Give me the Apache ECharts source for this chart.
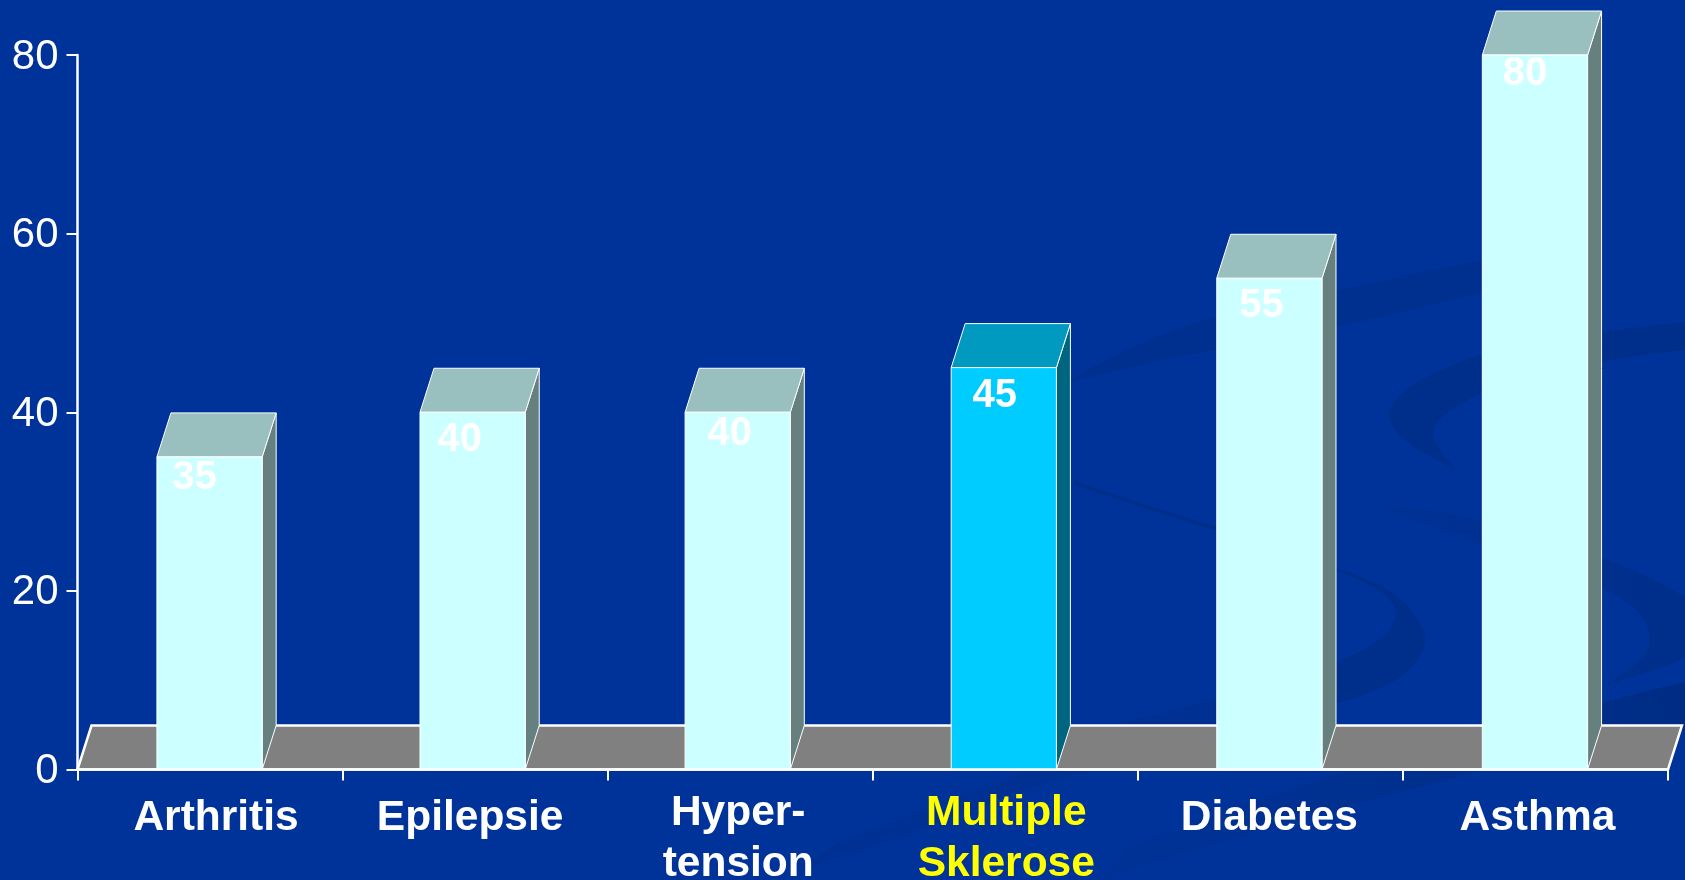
<!DOCTYPE html>
<html>
<head>
<meta charset="utf-8">
<style>
  html, body { margin: 0; padding: 0; background: #003399; }
  #chart { width: 1685px; height: 880px; }
</style>
<script src="https://cdn.jsdelivr.net/npm/echarts@6/dist/echarts.min.js"></script>
</head>
<body>
<div id="chart"></div>
<script>
// Chart data
const categories = ['Arthritis', 'Epilepsie', 'Hyper-\ntension', 'Multiple\nSklerose', 'Diabetes', 'Asthma'];
const values = [35, 40, 40, 45, 55, 80];
const yTicks = { min: 0, max: 80, interval: 20 };
const highlighted = 'Multiple\nSklerose';

// Hand placement of bars, value captions and category captions
const barShiftX = [-0.5, -2.5, -2.5, -1.5, -1, -0.5];
const captionShiftX = [-15, -13, -8, -9, -8, -10];
const captionShiftY = [21, 28, 22, 28, 28, 19];
const categoryShiftX = [6, -5, -2, 1, -1, 2];

const FONT = '"Liberation Sans", Arial, sans-serif';
const DEPTH_X = 14;
const DEPTH_Y = 44;
const BAR_RATIO = 0.397;

const palette = {
  plain: { front: '#ccffff', side: '#668080', top: '#99bfbf' },
  accent: { front: '#00ccff', side: '#006680', top: '#0099bf' }
};

// Horizontal fill ramp for the swooshes that fade towards their left end
const fade = (left, mid, right) => new echarts.graphic.LinearGradient(0, 0, 1, 0, [
  { offset: 0, color: left },
  { offset: 0.5, color: mid },
  { offset: 1, color: right }
]);

// Watermark swooshes in the slide background
const swooshes = [
  { fill: '#00308f', d: 'M1030 405 C1090 365 1150 335 1215 317 C1260 305 1300 297 1337 290 C1390 280 1440 268 1481 260 C1510 254 1540 250 1570 246 L1560 262 C1530 272 1505 285 1481 293 C1440 303 1390 315 1337 327 C1290 335 1250 343 1215 350 C1160 360 1110 372 1072 382 C1055 388 1040 398 1030 405 Z' },
  { fill: '#002e8b', d: 'M1685 322 C1610 330 1530 340 1481 355 C1440 368 1395 388 1389 413 C1388 435 1425 455 1457 470 C1440 452 1429 438 1435 425 C1445 412 1465 401 1481 393 C1530 372 1610 358 1685 350 Z' },
  { fill: '#002e8b', d: 'M1075 481 C1120 497 1170 513 1215 526 C1260 538 1300 552 1337 568 C1365 578 1390 588 1404 602 C1418 618 1426 630 1425 642 C1422 660 1405 678 1380 688 C1365 695 1350 700 1337 703 C1300 722 1260 742 1215 752 L1215 700 C1260 692 1305 678 1337 662 C1360 652 1380 642 1388 632 C1396 622 1398 612 1392 603 C1385 590 1360 580 1337 571 C1300 555 1260 542 1215 530 C1170 517 1120 500 1075 485 Z' },
  { fill: fade('#003295', '#00308f', '#002e8b'), d: 'M1375 505 C1420 505 1520 525 1601 557 C1640 572 1665 585 1685 597 L1685 657 C1660 670 1630 678 1604 685 C1630 670 1650 655 1650 640 C1650 620 1630 600 1601 587 C1560 565 1460 540 1375 505 Z' },
  { fill: fade('#003296', '#00308f', '#002c84'), d: 'M1685 682 C1650 690 1625 697 1601 703 C1520 725 1430 750 1345 772 C1270 795 1190 825 1126 847 L1103 878 C1220 840 1350 805 1478 772 C1560 755 1630 745 1685 730 Z' },
  { fill: '#003192', d: 'M1215 700 C1180 708 1145 716 1112 725 C1070 745 1040 762 1010 778 C940 805 885 825 838 842 L800 870 C880 845 960 815 1025 790 C1080 770 1150 760 1215 752 Z' }
];

const chart = echarts.init(document.getElementById('chart'), null, { renderer: 'canvas' });

chart.setOption({
  backgroundColor: '#003399',
  animation: false,
  grid: { left: 77.5, right: 17, top: 55, bottom: 110.5, containLabel: false, outerBoundsMode: 'none' },
  xAxis: {
    type: 'category',
    z: 5,
    boundaryGap: true,
    data: categories.map((name, i) => ({
      value: name,
      textStyle: {
        color: name === highlighted ? '#ffff00' : '#ffffff',
        padding: [
          name.includes('\n') ? 0 : 5,
          categoryShiftX[i] < 0 ? -2 * categoryShiftX[i] : 0,
          0,
          categoryShiftX[i] > 0 ? 2 * categoryShiftX[i] : 0
        ]
      }
    })),
    axisLine: { lineStyle: { color: '#ffffff', width: 2.5 } },
    axisTick: { show: true, length: 11, alignWithLabel: false, lineStyle: { color: '#ffffff', width: 2 } },
    axisLabel: {
      interval: 0,
      margin: 18,
      hideOverlap: false,
      fontFamily: FONT,
      fontSize: 42.5,
      fontWeight: 'bold',
      lineHeight: 51,
      verticalAlign: 'top',
      color: '#ffffff'
    }
  },
  yAxis: {
    type: 'value',
    z: 5,
    min: yTicks.min,
    max: yTicks.max,
    interval: yTicks.interval,
    splitLine: { show: false },
    axisLine: { show: true, lineStyle: { color: '#ffffff', width: 2.5 } },
    axisTick: { show: true, length: 11, lineStyle: { color: '#ffffff', width: 2 } },
    axisLabel: {
      margin: 19,
      color: '#ffffff',
      formatter: '{num|{value}}',
      rich: { num: { padding: [4, 0, 0, 0], fontFamily: FONT, fontSize: 42, color: '#ffffff' } }
    }
  },
  series: [
    {
      // Background watermark
      type: 'custom',
      coordinateSystem: 'none',
      silent: true,
      z: 0,
      data: [0],
      renderItem: () => ({
        type: 'group',
        children: swooshes.map(s => ({
          type: 'path',
          shape: { pathData: s.d },
          style: { fill: s.fill, stroke: null }
        }))
      })
    },
    {
      // Grey floor of the 3D plot
      type: 'custom',
      silent: true,
      z: 1,
      data: [0],
      renderItem: (params) => {
        const g = params.coordSys;
        const y0 = g.y + g.height;
        return {
          type: 'polygon',
          shape: {
            points: [
              [g.x, y0],
              [g.x + DEPTH_X, y0 - DEPTH_Y],
              [g.x + g.width + DEPTH_X, y0 - DEPTH_Y],
              [g.x + g.width, y0]
            ]
          },
          style: { fill: '#808080', stroke: '#ffffff', lineWidth: 2.5 }
        };
      }
    },
    {
      // Prism bars with their value captions
      type: 'custom',
      silent: true,
      z: 3,
      encode: { x: 0, y: 1 },
      data: categories.map((name, i) => [i, values[i]]),
      renderItem: (params, api) => {
        const i = api.value(0);
        const v = api.value(1);
        const bandWidth = api.size([1, 0])[0];
        const w = bandWidth * BAR_RATIO;
        const top = api.coord([i, v]);
        const bottom = api.coord([i, 0]);
        const cx = top[0] + barShiftX[i];
        const l = cx - w / 2;
        const r = cx + w / 2;
        const colors = categories[i] === highlighted ? palette.accent : palette.plain;
        const edge = { stroke: '#ffffff', lineWidth: 1 };
        return {
          type: 'group',
          children: [
            {
              type: 'polygon',
              shape: { points: [[r, bottom[1]], [r + DEPTH_X, bottom[1] - DEPTH_Y], [r + DEPTH_X, top[1] - DEPTH_Y], [r, top[1]]] },
              style: Object.assign({ fill: colors.side }, edge)
            },
            {
              type: 'polygon',
              shape: { points: [[l, top[1]], [l + DEPTH_X, top[1] - DEPTH_Y], [r + DEPTH_X, top[1] - DEPTH_Y], [r, top[1]]] },
              style: Object.assign({ fill: colors.top }, edge)
            },
            {
              type: 'rect',
              shape: { x: l, y: top[1], width: w, height: bottom[1] - top[1] },
              style: Object.assign({ fill: colors.front }, edge)
            },
            {
              type: 'text',
              style: {
                x: cx + captionShiftX[i],
                y: top[1] + captionShiftY[i],
                text: String(v),
                fill: '#ffffff',
                font: 'bold 40px ' + FONT,
                align: 'center',
                verticalAlign: 'middle'
              }
            }
          ]
        };
      }
    }
  ]
});
</script>
</body>
</html>
